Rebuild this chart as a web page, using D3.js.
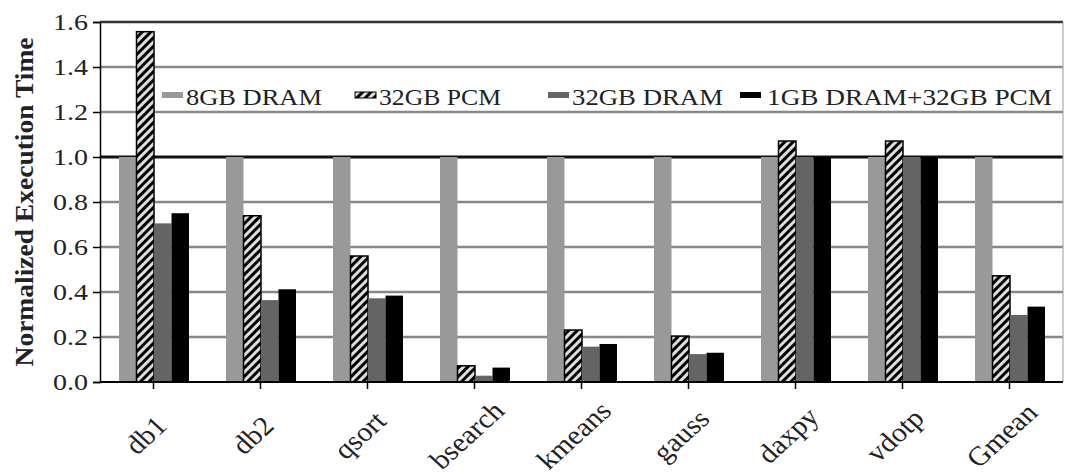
<!DOCTYPE html>
<html>
<head>
<meta charset="utf-8">
<script src="https://cdn.jsdelivr.net/npm/d3@7"></script>
<style>
    body { margin: 0; background: #fff; }
    svg { display: block; }
    text { font-family: "Liberation Serif", "Times New Roman", serif; fill: #222; }
</style>
</head>
<body>
<svg id="chart" width="1065" height="474"></svg>
<script>
// Daten
const categories = ["db1", "db2", "qsort", "bsearch", "kmeans", "gauss", "daxpy", "vdotp", "Gmean"];
const seriesNames = ["8GB DRAM", "32GB PCM", "32GB DRAM", "1GB DRAM+32GB PCM"];
const dram8 = [1.0, 1.0, 1.0, 1.0, 1.0, 1.0, 1.0, 1.0, 1.0];
const pcm32 = [1.557, 0.739, 0.56, 0.072, 0.231, 0.204, 1.071, 1.071, 0.472];
const dram32 = [0.705, 0.364, 0.372, 0.028, 0.157, 0.124, 1.0, 1.0, 0.298];
const hybrid = [0.75, 0.412, 0.384, 0.064, 0.169, 0.13, 1.0, 1.0, 0.335];
const yTicks = [0.0, 0.2, 0.4, 0.6, 0.8, 1.0, 1.2, 1.4, 1.6];

const allSeries = [dram8, pcm32, dram32, hybrid];
const fills = ["#999999", "url(#hatch)", "#646464", "#000000"];
// Legend x-Positionen (Layout, keine Daten)
const legendX = [162, 355, 548, 740];
const legendLen = [136, 122, 151, 285];

const svg = d3.select("#chart");
const plotLeft = 100, plotRight = 1063, plotTop = 22, plotBottom = 382;

// Schraffur fuer 32GB PCM
const defs = svg.append("defs");
const pat = defs.append("pattern")
    .attr("id", "hatch")
    .attr("patternUnits", "userSpaceOnUse")
    .attr("width", 6)
    .attr("height", 6)
    .attr("patternTransform", "rotate(45)");
pat.append("rect").attr("width", 6).attr("height", 6).attr("fill", "#000");
pat.append("rect").attr("x", 0).attr("width", 3).attr("height", 6).attr("fill", "#dedede");

const y = d3.scaleLinear().domain([0, 1.6]).range([plotBottom, plotTop]);
const x0 = d3.scaleBand().domain(categories).range([plotLeft, plotRight]).padding(0);
const x1 = d3.scaleBand().domain(d3.range(seriesNames.length))
    .range([19, x0.bandwidth() - 18]).padding(0);

// Gitterlinien
svg.append("g")
    .selectAll("line")
    .data(yTicks.filter(d => d > 0))
    .enter().append("line")
    .attr("x1", plotLeft).attr("x2", plotRight)
    .attr("y1", d => y(d)).attr("y2", d => y(d))
    .attr("stroke", d => d === 1.0 ? "#111" : (d === 1.6 ? "#333" : "#888"))
    .attr("stroke-width", d => d === 1.0 ? 3 : 2.5);

svg.append("line")
    .attr("x1", plotRight).attr("x2", plotRight).attr("y1", plotTop).attr("y2", plotBottom)
    .attr("stroke", "#999").attr("stroke-width", 1);

// Balken
const groups = svg.append("g")
    .selectAll("g")
    .data(categories)
    .enter().append("g")
    .attr("transform", d => "translate(" + x0(d) + ",0)");

groups.selectAll("rect")
    .data((d, i) => allSeries.map((s, k) => ({k: k, v: s[i]})))
    .enter().append("rect")
    .attr("x", d => x1(d.k))
    .attr("y", d => y(d.v))
    .attr("width", x1.bandwidth())
    .attr("height", d => plotBottom - y(d.v))
    .attr("fill", d => fills[d.k])
    .attr("stroke", d => d.k === 1 ? "#000" : "none")
    .attr("stroke-width", 1.5);

// y-Achse
const yAxis = svg.append("g")
    .attr("transform", "translate(" + plotLeft + ",0)")
    .call(d3.axisLeft(y).tickValues(yTicks).tickFormat(d3.format(".1f")).tickSize(7).tickPadding(6));
yAxis.select(".domain").attr("stroke", "#000").attr("stroke-width", 1.5);
yAxis.selectAll(".tick line").attr("stroke", "#000").attr("stroke-width", 1.5);
yAxis.selectAll(".tick text")
    .attr("font-size", 23)
    .attr("font-family", "Liberation Serif")
    .attr("fill", "#222")
    .attr("x", -12)
    .attr("textLength", 35)
    .attr("lengthAdjust", "spacingAndGlyphs");

// x-Achse
svg.append("line")
    .attr("x1", plotLeft).attr("x2", plotRight).attr("y1", plotBottom).attr("y2", plotBottom)
    .attr("stroke", "#000").attr("stroke-width", 2);

svg.append("g")
    .selectAll("line")
    .data(categories)
    .enter().append("line")
    .attr("x1", d => x0(d) + x0.bandwidth() / 2)
    .attr("x2", d => x0(d) + x0.bandwidth() / 2)
    .attr("y1", plotBottom).attr("y2", plotBottom + 7)
    .attr("stroke", "#000").attr("stroke-width", 1.5);

svg.append("g")
    .selectAll("text")
    .data(categories)
    .enter().append("text")
    .attr("transform", d => "translate(" + (x0(d) + x0.bandwidth() / 2 - 8) + ",435) scale(1.1,1) rotate(-45)")
    .attr("text-anchor", "middle")
    .attr("dy", "0.35em")
    .attr("font-size", 27)
    .text(d => d);

// Achsentitel
svg.append("text")
    .attr("transform", "translate(24,202) rotate(-90)")
    .attr("text-anchor", "middle")
    .attr("dy", "0.35em")
    .attr("font-size", 26)
    .attr("font-weight", "bold")
    .attr("textLength", 329)
    .attr("lengthAdjust", "spacingAndGlyphs")
    .text("Normalized Execution Time");

// Legende
const legend = svg.append("g")
    .selectAll("g")
    .data(seriesNames)
    .enter().append("g")
    .attr("transform", (d, i) => "translate(" + legendX[i] + ",0)");

legend.append("rect")
    .attr("x", 0).attr("y", 92)
    .attr("width", 21).attr("height", 6)
    .attr("fill", (d, i) => fills[i])
    .attr("stroke", (d, i) => i === 1 ? "#000" : "none")
    .attr("stroke-width", 1);

legend.append("text")
    .attr("x", (d, i) => i === 3 ? 27 : 24)
    .attr("y", 105)
    .attr("font-size", 23)
    .attr("textLength", (d, i) => legendLen[i])
    .attr("lengthAdjust", "spacingAndGlyphs")
    .text(d => d);
</script>
</body>
</html>
